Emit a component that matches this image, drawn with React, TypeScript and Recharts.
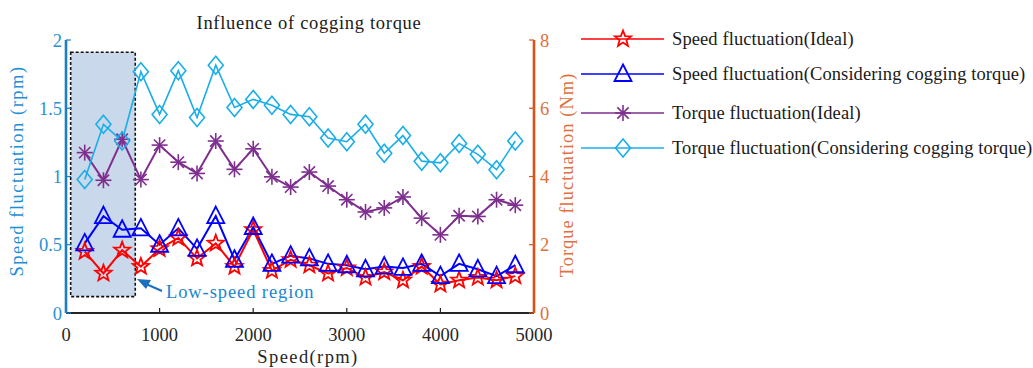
import {
  Line,
  LineChart,
  ReferenceArea,
  XAxis,
  YAxis,
} from 'recharts';

const speeds = [
  200, 400, 600, 800, 1000, 1200, 1400, 1600, 1800, 2000, 2200, 2400,
  2600, 2800, 3000, 3200, 3400, 3600, 3800, 4000, 4200, 4400, 4600, 4800,
];
const speedIdeal = [
  0.45, 0.29, 0.46, 0.34, 0.47, 0.55, 0.4, 0.51, 0.34, 0.61, 0.31, 0.39,
  0.35, 0.29, 0.33, 0.26, 0.3, 0.24, 0.34, 0.21, 0.24, 0.26, 0.24, 0.27,
];
const speedCogging = [
  0.51, 0.71, 0.61, 0.62, 0.5, 0.62, 0.47, 0.71, 0.39, 0.63, 0.36, 0.42,
  0.4, 0.36, 0.35, 0.32, 0.34, 0.33, 0.36, 0.27, 0.36, 0.32, 0.27, 0.35,
];
const torqueIdeal = [
  4.7, 3.89, 5.09, 3.91, 4.92, 4.42, 4.09, 5.04, 4.21, 4.81, 3.99, 3.69,
  4.13, 3.72, 3.32, 2.96, 3.08, 3.4, 2.78, 2.29, 2.85, 2.83, 3.32, 3.16,
];
const torqueCogging = [
  3.91, 5.53, 5.04, 7.07, 5.82, 7.1, 5.73, 7.26, 6.02, 6.26, 6.09, 5.82,
  5.75, 5.13, 5.02, 5.53, 4.68, 5.2, 4.45, 4.4, 4.97, 4.65, 4.2, 5.04,
];

const xTicks = [0, 1000, 2000, 3000, 4000, 5000];
const leftTicks = [0, 0.5, 1, 1.5, 2];
const rightTicks = [0, 2, 4, 6, 8];

const lowSpeed = { x1: 50, x2: 740, y1: 0.12, y2: 1.91 };

type MarkerKind = 'star' | 'triangle' | 'asterisk' | 'diamond';

interface SeriesDef {
  key: string;
  label: string;
  color: string;
  marker: MarkerKind;
  axis: 'L' | 'R';
  width: number;
}

const series: SeriesDef[] = [
  { key: 'speedIdeal', label: 'Speed fluctuation(Ideal)', color: '#ff0000', marker: 'star', axis: 'L', width: 2 },
  { key: 'speedCogging', label: 'Speed fluctuation(Considering cogging torque)', color: '#0000ff', marker: 'triangle', axis: 'L', width: 2 },
  { key: 'torqueIdeal', label: 'Torque fluctuation(Ideal)', color: '#7e2f8e', marker: 'asterisk', axis: 'R', width: 2 },
  { key: 'torqueCogging', label: 'Torque fluctuation(Considering cogging torque)', color: '#1aaee8', marker: 'diamond', axis: 'R', width: 1.6 },
];

const data = speeds.map((s, i) => ({
  speed: s,
  speedIdeal: speedIdeal[i],
  speedCogging: speedCogging[i],
  torqueIdeal: torqueIdeal[i],
  torqueCogging: torqueCogging[i],
}));

const FONT = '"Liberation Serif", "Times New Roman", serif';
const FS = 18.5;
const W = 1033;
const H = 368;
const PLOT_LEFT = 66;
const PLOT_RIGHT = 534;
const PLOT_TOP = 40;
const PLOT_BOTTOM = 313;

function Marker({ kind, cx, cy, color }: { kind: MarkerKind; cx: number; cy: number; color: string }) {
  const sw = 1.8;
  if (kind === 'star') {
    const pts: string[] = [];
    for (let k = 0; k < 10; k++) {
      const r = k % 2 === 0 ? 8.5 : 3.6;
      const a = -Math.PI / 2 + (k * Math.PI) / 5;
      pts.push(`${cx + r * Math.cos(a)},${cy + r * Math.sin(a)}`);
    }
    return <polygon points={pts.join(' ')} fill="none" stroke={color} strokeWidth={sw} />;
  }
  if (kind === 'triangle') {
    return (
      <polygon
        points={`${cx},${cy - 9.5} ${cx + 8.5},${cy + 7} ${cx - 8.5},${cy + 7}`}
        fill="none"
        stroke={color}
        strokeWidth={sw}
      />
    );
  }
  if (kind === 'diamond') {
    return (
      <polygon
        points={`${cx},${cy - 9} ${cx + 7.5},${cy} ${cx},${cy + 9} ${cx - 7.5},${cy}`}
        fill="none"
        stroke={color}
        strokeWidth={1.6}
      />
    );
  }
  const r = 8;
  const d = r * 0.707;
  return (
    <g stroke={color} strokeWidth={1.6}>
      <line x1={cx} y1={cy - r} x2={cx} y2={cy + r} />
      <line x1={cx - r} y1={cy} x2={cx + r} y2={cy} />
      <line x1={cx - d} y1={cy - d} x2={cx + d} y2={cy + d} />
      <line x1={cx - d} y1={cy + d} x2={cx + d} y2={cy - d} />
    </g>
  );
}

// MATLAB-style inward ticks: tickSize/tickMargin are 0, so x/y sit on the axis line.
// eslint-disable-next-line @typescript-eslint/no-explicit-any
const bottomTick = (p: any) => (
  <g>
    {p.payload.value !== 0 && p.payload.value !== 5000 && (
      <line x1={p.x} y1={p.y} x2={p.x} y2={p.y - 5} stroke="#262626" strokeWidth={1.2} />
    )}
    <text x={p.x} y={p.y + 28} textAnchor="middle" fill="#262626" fontSize={FS} fontFamily={FONT}>
      {p.payload.value}
    </text>
  </g>
);

// eslint-disable-next-line @typescript-eslint/no-explicit-any
const topTick = (p: any) =>
  p.payload.value !== 0 && p.payload.value !== 5000 ? (
    <line x1={p.x} y1={p.y} x2={p.x} y2={p.y + 5} stroke="#262626" strokeWidth={1.2} />
  ) : (
    <g />
  );

// eslint-disable-next-line @typescript-eslint/no-explicit-any
const leftTick = (p: any) => (
  <g>
    <line x1={p.x} y1={p.y} x2={p.x + 5} y2={p.y} stroke="#1b7fc6" strokeWidth={1.2} />
    <text x={p.x - 4} y={p.y + 6.5} textAnchor="end" fill="#2a8fd6" fontSize={FS} fontFamily={FONT}>
      {p.payload.value}
    </text>
  </g>
);

// eslint-disable-next-line @typescript-eslint/no-explicit-any
const rightTick = (p: any) => (
  <g>
    <line x1={p.x} y1={p.y} x2={p.x - 5} y2={p.y} stroke="#d95319" strokeWidth={1.2} />
    <text x={p.x + 6} y={p.y + 6.5} textAnchor="start" fill="#e0703a" fontSize={FS} fontFamily={FONT}>
      {p.payload.value}
    </text>
  </g>
);

const legendRows = [39, 74, 113, 148];

export default function App() {
  return (
    <div style={{ position: 'absolute', left: 0, top: 0, width: W, height: H, background: '#fff' }}>
      <LineChart
        width={W}
        height={H}
        data={data}
        margin={{ top: PLOT_TOP, right: 0, bottom: 0, left: 0 }}
      >
        <XAxis
          xAxisId="b"
          dataKey="speed"
          type="number"
          domain={[0, 5000]}
          ticks={xTicks}
          height={H - PLOT_BOTTOM}
          tickSize={0}
          tickMargin={0}
          tick={bottomTick}
          tickLine={false}
          axisLine={{ stroke: '#262626', strokeWidth: 2.2 }}
        />
        <XAxis
          xAxisId="t"
          orientation="top"
          dataKey="speed"
          type="number"
          domain={[0, 5000]}
          ticks={xTicks}
          height={0}
          tickSize={0}
          tickMargin={0}
          tick={topTick}
          tickLine={false}
          axisLine={{ stroke: '#262626', strokeWidth: 1.6 }}
        />
        <YAxis
          yAxisId="L"
          type="number"
          domain={[0, 2]}
          ticks={leftTicks}
          width={PLOT_LEFT}
          tickSize={0}
          tickMargin={0}
          tick={leftTick}
          tickLine={false}
          axisLine={{ stroke: '#1b7fc6', strokeWidth: 2.6 }}
        />
        <YAxis
          yAxisId="R"
          orientation="right"
          type="number"
          domain={[0, 8]}
          ticks={rightTicks}
          width={W - PLOT_RIGHT}
          tickSize={0}
          tickMargin={0}
          tick={rightTick}
          tickLine={false}
          axisLine={{ stroke: '#d95319', strokeWidth: 2.6 }}
        />
        <ReferenceArea
          xAxisId="b"
          yAxisId="L"
          x1={lowSpeed.x1}
          x2={lowSpeed.x2}
          y1={lowSpeed.y1}
          y2={lowSpeed.y2}
          fill="#c9d8ea"
          fillOpacity={1}
          stroke="#111"
          strokeWidth={1.6}
          strokeDasharray="3 2"
        />
        {series.map((s) => (
          <Line
            key={s.key}
            xAxisId="b"
            yAxisId={s.axis}
            dataKey={s.key}
            type="linear"
            stroke={s.color}
            strokeWidth={s.width}
            isAnimationActive={false}
            activeDot={false}
            // eslint-disable-next-line @typescript-eslint/no-explicit-any
            dot={(p: any) => (
              <Marker key={`${s.key}-${p.index}`} kind={s.marker} cx={p.cx} cy={p.cy} color={s.color} />
            )}
          />
        ))}
      </LineChart>

      <svg
        width={W}
        height={H}
        style={{ position: 'absolute', left: 0, top: 0, pointerEvents: 'none' }}
        fontFamily={FONT}
        fontSize={FS}
      >
        <text x={309} y={29} textAnchor="middle" fill="#1a1a1a" letterSpacing={0.7}>
          Influence of cogging torque
        </text>
        <text x={308} y={363} textAnchor="middle" fill="#262626" letterSpacing={1.4}>
          Speed(rpm)
        </text>
        <text
          transform="translate(23,171) rotate(-90)"
          textAnchor="middle"
          fill="#1e8fd5"
          letterSpacing={1.5}
        >
          Speed fluctuation (rpm)
        </text>
        <text
          transform="translate(573,175) rotate(-90)"
          textAnchor="middle"
          fill="#e07040"
          letterSpacing={1.0}
        >
          Torque fluctuation (Nm)
        </text>

        {/* annotation */}
        <line x1={162} y1={291} x2={146} y2={284} stroke="#1f6fbf" strokeWidth={2} />
        <polygon points="137,279 151,280 146,289" fill="#1f6fbf" />
        <text x={166} y={298} fill="#1a86d0" letterSpacing={0.9}>
          Low-speed region
        </text>

        {/* legend */}
        {series.map((s, i) => (
          <g key={s.key}>
            <line x1={581} y1={legendRows[i]} x2={664} y2={legendRows[i]} stroke={s.color} strokeWidth={1.5} />
            <Marker kind={s.marker} cx={623} cy={legendRows[i]} color={s.color} />
            <text x={672} y={legendRows[i] + 6} fill="#1a1a1a" letterSpacing={0.1}>
              {s.label}
            </text>
          </g>
        ))}
      </svg>
    </div>
  );
}
